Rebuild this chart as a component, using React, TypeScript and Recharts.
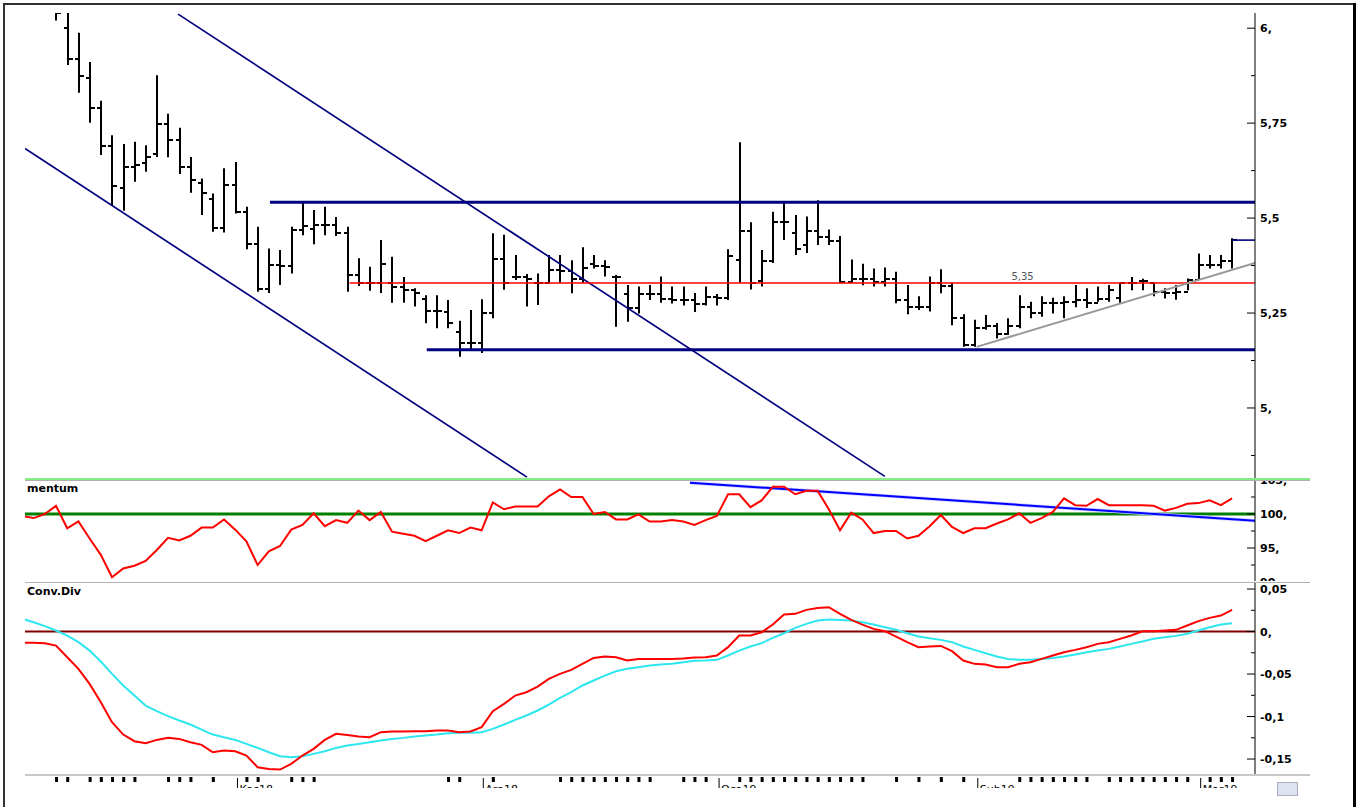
import React from "react";
import {
  ComposedChart,
  Bar,
  Line,
  XAxis,
  YAxis,
  ReferenceLine,
  ReferenceDot,
} from "recharts";

// price bars, index 1..106
const highs = [
  6.09, 6.07, 5.988, 5.911, 5.809, 5.718, 5.695, 5.701, 5.692, 5.876,
  5.775, 5.738, 5.661, 5.604, 5.565, 5.631, 5.648, 5.53, 5.477, 5.42,
  5.416, 5.477, 5.543, 5.521, 5.53, 5.503, 5.477, 5.394, 5.372, 5.442,
  5.398, 5.345, 5.315, 5.297, 5.297, 5.284, 5.23, 5.258, 5.286, 5.46,
  5.456, 5.403, 5.353, 5.354, 5.403, 5.403, 5.389, 5.423, 5.403, 5.389,
  5.35, 5.324, 5.32, 5.324, 5.346, 5.32, 5.32, 5.303, 5.32, 5.3,
  5.418, 5.7, 5.489, 5.416, 5.517, 5.543, 5.508, 5.504, 5.547, 5.47,
  5.453, 5.391, 5.38, 5.367, 5.37, 5.359, 5.324, 5.294, 5.346, 5.365,
  5.33, 5.247, 5.232, 5.245, 5.224, 5.236, 5.297, 5.28, 5.294, 5.29,
  5.294, 5.324, 5.315, 5.32, 5.324, 5.33, 5.345, 5.34, 5.33, 5.315,
  5.324, 5.341, 5.407, 5.403, 5.403, 5.447,
];
const lows = [
  6.02, 5.903, 5.83, 5.751, 5.666, 5.534, 5.519, 5.596, 5.622, 5.661,
  5.66, 5.616, 5.567, 5.508, 5.464, 5.462, 5.512, 5.418, 5.306, 5.303,
  5.324, 5.354, 5.455, 5.431, 5.455, 5.453, 5.306, 5.321, 5.309, 5.303,
  5.277, 5.277, 5.267, 5.223, 5.21, 5.21, 5.135, 5.153, 5.145, 5.236,
  5.311, 5.337, 5.267, 5.271, 5.328, 5.33, 5.302, 5.33, 5.367, 5.346,
  5.214, 5.227, 5.249, 5.284, 5.277, 5.275, 5.27, 5.253, 5.27, 5.27,
  5.284, 5.33, 5.312, 5.32, 5.382, 5.442, 5.403, 5.408, 5.429, 5.429,
  5.33, 5.33, 5.323, 5.32, 5.32, 5.276, 5.247, 5.258, 5.254, 5.302,
  5.218, 5.161, 5.161, 5.206, 5.183, 5.192, 5.21, 5.236, 5.24, 5.249,
  5.236, 5.265, 5.263, 5.28, 5.28, 5.277, 5.31, 5.31, 5.294, 5.288,
  5.285, 5.31, 5.338, 5.367, 5.367, 5.367,
];
const opens = [
  6.06, 6.0, 5.92, 5.87, 5.79, 5.69, 5.578, 5.635, 5.644, 5.67,
  5.749, 5.705, 5.635, 5.593, 5.55, 5.474, 5.587, 5.517, 5.431, 5.313,
  5.376, 5.375, 5.468, 5.471, 5.482, 5.482, 5.462, 5.35, 5.33, 5.33,
  5.33, 5.319, 5.311, 5.286, 5.256, 5.253, 5.2, 5.172, 5.17, 5.251,
  5.391, 5.344, 5.344, 5.33, 5.33, 5.363, 5.36, 5.34, 5.38, 5.375,
  5.344, 5.3, 5.262, 5.3, 5.3, 5.287, 5.285, 5.285, 5.273, 5.293,
  5.29, 5.39, 5.466, 5.335, 5.388, 5.49, 5.46, 5.43, 5.466, 5.45,
  5.44, 5.333, 5.34, 5.34, 5.333, 5.34, 5.284, 5.267, 5.267, 5.33,
  5.32, 5.236, 5.167, 5.21, 5.216, 5.195, 5.216, 5.267, 5.25, 5.276,
  5.276, 5.28, 5.284, 5.276, 5.288, 5.29, 5.33, 5.335, 5.33, 5.306,
  5.303, 5.306, 5.338, 5.376, 5.376, 5.388,
];
const closes = [
  6.04, 5.918, 5.874, 5.789, 5.69, 5.585, 5.635, 5.639, 5.66, 5.749,
  5.705, 5.635, 5.6, 5.565, 5.474, 5.587, 5.517, 5.431, 5.313, 5.376,
  5.375, 5.468, 5.48, 5.482, 5.482, 5.462, 5.35, 5.33, 5.33, 5.38,
  5.319, 5.311, 5.302, 5.256, 5.256, 5.224, 5.172, 5.172, 5.251, 5.391,
  5.33, 5.344, 5.34, 5.328, 5.363, 5.36, 5.34, 5.368, 5.375, 5.372,
  5.344, 5.262, 5.3, 5.3, 5.287, 5.285, 5.285, 5.273, 5.293, 5.29,
  5.4, 5.466, 5.33, 5.388, 5.49, 5.49, 5.418, 5.466, 5.451, 5.44,
  5.333, 5.34, 5.34, 5.333, 5.34, 5.284, 5.267, 5.267, 5.33, 5.32,
  5.236, 5.167, 5.21, 5.216, 5.195, 5.216, 5.267, 5.25, 5.276, 5.276,
  5.28, 5.284, 5.276, 5.288, 5.31, 5.33, 5.33, 5.335, 5.306, 5.303,
  5.306, 5.338, 5.376, 5.376, 5.388, 5.443,
];

// indicators, index -2..106
const momentum = [
  99.7, 99.4, 100.0, 101.2, 97.9, 98.9, 96.4, 94.0, 90.7, 92.0,
  92.4, 93.1, 94.7, 96.5, 96.1, 96.8, 98.0, 98.0, 99.2, 97.7,
  96.0, 92.5, 94.5, 95.3, 97.7, 98.4, 100.1, 98.2, 99.1, 98.7,
  100.5, 99.1, 100.3, 97.4, 97.1, 96.8, 96.0, 96.8, 97.6, 97.2,
  98.0, 97.6, 101.7, 100.7, 101.1, 101.1, 101.1, 102.6, 103.6, 102.5,
  102.5, 100.0, 100.3, 99.2, 99.2, 99.95, 98.9, 98.9, 99.1, 98.9,
  98.4, 99.1, 99.7, 102.9, 102.9, 101.0, 102.0, 104.0, 104.0, 102.9,
  103.4, 103.4, 100.7, 97.6, 100.2, 99.2, 97.2, 97.5, 97.5, 96.4,
  96.8, 98.2, 99.85, 98.1, 97.2, 97.9, 97.9, 98.6, 99.2, 100.1,
  98.7, 99.4, 100.3, 102.3, 101.3, 101.2, 102.2, 101.3, 101.3, 101.3,
  101.3, 101.2, 100.5, 100.9, 101.5, 101.6, 102.0, 101.3, 102.3,
];
const macdLine = [
  -0.0133, -0.0133, -0.0137, -0.0165, -0.0302, -0.0439, -0.0616, -0.0831, -0.1067, -0.1212,
  -0.129, -0.1314, -0.1275, -0.1251, -0.1263, -0.1302, -0.1333, -0.142, -0.14, -0.1408,
  -0.1459, -0.1596, -0.1616, -0.1624, -0.1557, -0.1459, -0.138, -0.1275, -0.1204, -0.1216,
  -0.1235, -0.1243, -0.1184, -0.1176, -0.1176, -0.1173, -0.1173, -0.1165, -0.1165, -0.1184,
  -0.1176, -0.1125, -0.0937, -0.0851, -0.0753, -0.0714, -0.0647, -0.0557, -0.0498, -0.0451,
  -0.038, -0.031, -0.0294, -0.0302, -0.0341, -0.0322, -0.0322, -0.0322, -0.0322, -0.0316,
  -0.0306, -0.0302, -0.0282, -0.0184, -0.0047, -0.0047, -0.0008, 0.0082, 0.02, 0.0208,
  0.0255, 0.0278, 0.0286, 0.0208, 0.0137, 0.0082, 0.0031, 0.0004, -0.0059, -0.0125,
  -0.0184, -0.0176, -0.0169, -0.0231, -0.0341, -0.038, -0.0388, -0.042, -0.042, -0.038,
  -0.0361, -0.0322, -0.0282, -0.0243, -0.0216, -0.0184, -0.0145, -0.0125, -0.0086, -0.0047,
  0.0004, 0.0004, 0.0012, 0.002, 0.0071, 0.0122, 0.0161, 0.0188, 0.0255,
];
const signalLine = [
  0.0149, 0.011, 0.0063, 0.0012, -0.0047, -0.0125, -0.0224, -0.0353, -0.0498, -0.0635,
  -0.0753, -0.0871, -0.0937, -0.0996, -0.1047, -0.1094, -0.1153, -0.1212, -0.1243, -0.1275,
  -0.1322, -0.1369, -0.142, -0.1467, -0.1478, -0.1467, -0.1439, -0.1408, -0.1369, -0.1341,
  -0.1322, -0.1302, -0.1282, -0.1263, -0.1251, -0.1235, -0.1224, -0.1212, -0.1196, -0.1192,
  -0.1192, -0.1184, -0.1145, -0.1094, -0.1039, -0.0988, -0.0929, -0.0859, -0.078, -0.0714,
  -0.0635, -0.0576, -0.0518, -0.0467, -0.0439, -0.042, -0.04, -0.0388, -0.038, -0.0361,
  -0.0345, -0.0341, -0.0333, -0.0282, -0.0224, -0.0176, -0.0137, -0.0075, -0.002, 0.0043,
  0.009, 0.0129, 0.0141, 0.0137, 0.0129, 0.011, 0.0082, 0.0051, 0.002, -0.002,
  -0.0059, -0.0078, -0.0098, -0.0125, -0.0176, -0.0216, -0.0255, -0.0294, -0.0322, -0.0333,
  -0.0333, -0.0322, -0.031, -0.0294, -0.0271, -0.0243, -0.0224, -0.0204, -0.0176, -0.0145,
  -0.0118, -0.0086, -0.0067, -0.0051, -0.0027, 0.0012, 0.0051, 0.0082, 0.0098,
];

// drawn trend lines (bar index, value)
const lowerChannel = [{ x: -1.77, y: 5.683 }, { x: 43.05, y: 4.818 }];
const upperChannel = [{ x: 11.9, y: 6.037 }, { x: 75.0, y: 4.82 }];
const resistance = [{ x: 20.1, y: 5.542 }, { x: 108.05, y: 5.542 }];
const support = [{ x: 34.1, y: 5.153 }, { x: 108.05, y: 5.153 }];
const redLevel = [{ x: 27.2, y: 5.329 }, { x: 108.05, y: 5.329 }];
const lastPrice = [{ x: 106, y: 5.442 }, { x: 108.05, y: 5.442 }];
const riseLine = [{ x: 83.2, y: 5.161 }, { x: 108.05, y: 5.382 }];
const momTrend = [{ x: 57.6, y: 104.6 }, { x: 108.05, y: 99.0 }];

// axis ticks
const priceTicks = [4.875, 5, 5.125, 5.25, 5.375, 5.5, 5.625, 5.75, 5.875, 6];
const priceMajor = [5, 5.25, 5.5, 5.75, 6];
const priceLabels = ["5,", "5,25", "5,5", "5,75", "6,"];
const momTicks = [90, 92.5, 95, 97.5, 100, 102.5, 105];
const momMajor = [90, 95, 100, 105];
const momLabels = ["90,", "95,", "100,", "105,"];
const macdTicks = [-0.15, -0.125, -0.1, -0.075, -0.05, -0.025, 0, 0.025, 0.05];
const macdMajor = [-0.15, -0.1, -0.05, 0, 0.05];
const macdLabels = ["-0,15", "-0,1", "-0,05", "0,", "0,05"];

const dayTicks = [
  1, 2, 4, 5, 6, 7, 8, 11, 12, 13, 15, 18, 19, 22, 23, 24, 36, 37, 40, 46,
  47, 48, 49, 50, 51, 52, 53, 54, 57, 58, 59, 62, 63, 64, 65, 66, 67, 68,
  69, 70, 71, 72, 73, 76, 78, 80, 82, 87, 88, 89, 90, 91, 92, 93, 95, 96,
  97, 98, 99, 100, 101, 102, 104, 105, 106,
];
const months = ["Kas18", "Ara18", "Oca19", "Şub19", "Mar19"];
const monthPos = [17.2, 39.15, 60.2, 83.3, 103.2];

const priceData = highs.map((h, k) => ({
  i: k + 1,
  high: h,
  low: lows[k],
  open: opens[k],
  close: closes[k],
  range: [lows[k], h],
}));

const indicatorData = momentum.map((m, k) => ({
  i: k - 2,
  mom: m,
  macd: macdLine[k],
  signal: signalLine[k],
}));

const xDomain = [-1.77, 108.05];
const FONT = "DejaVu Sans, Verdana, sans-serif";

const OhlcBar = (props: any) => {
  const { x, y, width, height, payload } = props;
  if (!payload) return null;
  const top = Math.min(y, y + height);
  const h = Math.abs(height);
  const cx = Math.round(x + width / 2);
  const span = payload.high - payload.low;
  const py = (v: number) => Math.round(top + ((payload.high - v) / span) * h);
  return (
    <g>
      <line x1={cx} x2={cx} y1={top} y2={top + h} stroke="#000" strokeWidth={2} />
      <line x1={cx - 4} x2={cx} y1={py(payload.open)} y2={py(payload.open)} stroke="#000" strokeWidth={2} />
      <line x1={cx} x2={cx + 5} y1={py(payload.close)} y2={py(payload.close)} stroke="#000" strokeWidth={2} />
    </g>
  );
};

const makeYTick = (majors: number[], labels: string[]) => (props: any) => {
  const { x, y, payload } = props;
  const k = majors.findIndex((m) => Math.abs(m - payload.value) < 1e-9);
  return (
    <g>
      <line x1={x - (k >= 0 ? 8 : 4)} x2={x} y1={y} y2={y} stroke="#000" />
      {k >= 0 && (
        <text x={x + 5} y={y + 4} fontSize={11} fontWeight="bold" fontFamily={FONT} fill="#000">
          {labels[k]}
        </text>
      )}
    </g>
  );
};

const DateTick = (props: any) => {
  const { x, y, payload } = props;
  const m = monthPos.findIndex((p) => Math.abs(p - payload.value) < 1e-9);
  if (m >= 0) {
    return (
      <g>
        <line x1={x} x2={x} y1={y + 4} y2={y + 16} stroke="#000" />
        <text x={x + 2} y={y + 19} fontSize={11} fontFamily={FONT} fill="#000">
          {months[m]}
        </text>
      </g>
    );
  }
  return <rect x={x - 1} y={y + 3} width={3} height={5} fill="#000" />;
};

const hLine = (top: number, color: string, h = 1) => (
  <div style={{ position: "absolute", left: 25, top, width: 1285, height: h, background: color }} />
);

export default function App() {
  return (
    <div
      style={{
        position: "absolute",
        left: 0,
        top: 0,
        width: 1371,
        height: 807,
        background: "#fff",
        overflow: "hidden",
      }}
    >
      {/* price panel */}
      <div style={{ position: "absolute", left: 0, top: 0, width: 1371, height: 485, overflow: "hidden" }}>
        <ComposedChart width={1371} height={485} data={priceData} margin={{ top: 13, right: 56, bottom: 6, left: 25 }}>
          <XAxis type="number" dataKey="i" domain={xDomain} allowDataOverflow hide />
          <YAxis
            orientation="right"
            width={60}
            domain={[4.813, 6.04]}
            allowDataOverflow
            ticks={priceTicks}
            interval={0}
            tickLine={false}
            tickSize={0}
            tickMargin={0}
            axisLine={{ stroke: "#000" }}
            tick={makeYTick(priceMajor, priceLabels)}
          />
          <ReferenceLine segment={lowerChannel} stroke="#000080" strokeWidth={1.7} ifOverflow="hidden" />
          <ReferenceLine segment={upperChannel} stroke="#000080" strokeWidth={1.7} ifOverflow="hidden" />
          <ReferenceLine segment={resistance} stroke="#000080" strokeWidth={3} ifOverflow="hidden" />
          <ReferenceLine segment={support} stroke="#000080" strokeWidth={3} ifOverflow="hidden" />
          <ReferenceLine segment={redLevel} stroke="#ff0000" strokeWidth={1.6} ifOverflow="hidden" />
          <ReferenceLine segment={lastPrice} stroke="#000080" strokeWidth={1.6} ifOverflow="hidden" />
          <ReferenceLine segment={riseLine} stroke="#999999" strokeWidth={2} ifOverflow="hidden" />
          <ReferenceDot
            x={87.3}
            y={5.329}
            r={0}
            fill="none"
            stroke="none"
            label={{ value: "5,35", position: "top", offset: 3, fill: "#555", fontSize: 10, fontFamily: FONT }}
          />
          <Bar dataKey="range" barSize={8} shape={<OhlcBar />} isAnimationActive={false} />
        </ComposedChart>
      </div>

      {/* momentum panel */}
      <div style={{ position: "absolute", left: 0, top: 481, width: 1371, height: 100, overflow: "hidden" }}>
        <ComposedChart width={1371} height={100} data={indicatorData} margin={{ top: 0, right: 56, bottom: 0, left: 25 }}>
          <XAxis type="number" dataKey="i" domain={xDomain} allowDataOverflow hide />
          <YAxis
            orientation="right"
            width={60}
            domain={[90.15, 104.85]}
            allowDataOverflow
            ticks={momTicks}
            interval={0}
            tickLine={false}
            tickSize={0}
            tickMargin={0}
            axisLine={{ stroke: "#000" }}
            tick={makeYTick(momMajor, momLabels)}
          />
          <ReferenceLine y={100} stroke="#008000" strokeWidth={3} />
          <ReferenceLine segment={momTrend} stroke="#cdd0ff" strokeWidth={3.5} ifOverflow="hidden" />
          <ReferenceLine segment={momTrend} stroke="#0000ff" strokeWidth={2} ifOverflow="hidden" />
          <Line type="linear" dataKey="mom" stroke="#ff0000" strokeWidth={2} dot={false} isAnimationActive={false} />
        </ComposedChart>
      </div>

      {/* MACD panel */}
      <div style={{ position: "absolute", left: 0, top: 583, width: 1371, height: 205, overflow: "hidden" }}>
        <ComposedChart width={1371} height={207} data={indicatorData} margin={{ top: 0, right: 56, bottom: 0, left: 25 }}>
          <XAxis
            type="number"
            dataKey="i"
            domain={xDomain}
            allowDataOverflow
            height={16}
            ticks={[...dayTicks, ...monthPos]}
            interval={0}
            axisLine={false}
            tickLine={false}
            tickSize={0}
            tickMargin={0}
            tick={<DateTick />}
          />
          <YAxis
            orientation="right"
            width={60}
            domain={[-0.1676, 0.0571]}
            allowDataOverflow
            ticks={macdTicks}
            interval={0}
            tickLine={false}
            tickSize={0}
            tickMargin={0}
            axisLine={{ stroke: "#000" }}
            tick={makeYTick(macdMajor, macdLabels)}
          />
          <ReferenceLine y={0} stroke="#800000" strokeWidth={2} />
          <Line type="linear" dataKey="signal" stroke="#2ee6ee" strokeWidth={2} dot={false} isAnimationActive={false} />
          <Line type="linear" dataKey="macd" stroke="#ff0000" strokeWidth={2} dot={false} isAnimationActive={false} />
        </ComposedChart>
      </div>

      {/* panel separators and frame */}
      {hLine(478, "#86ec86", 2)}
      {hLine(480, "#b0b0b0")}
      {hLine(582, "#b0b0b0")}
      {hLine(774, "#c8c8c8", 2)}
      <div style={{ position: "absolute", left: 3, top: 3, width: 2, height: 804, background: "#333" }} />
      <div style={{ position: "absolute", left: 3, top: 3, width: 1353, height: 2, background: "#333" }} />
      <div style={{ position: "absolute", left: 1353, top: 3, width: 3, height: 804, background: "#000" }} />

      <div style={{ position: "absolute", left: 27, top: 482, font: `bold 11px ${FONT}`, color: "#000" }}>mentum</div>
      <div style={{ position: "absolute", left: 27, top: 585, font: `bold 11px ${FONT}`, color: "#000" }}>Conv.Div</div>
      <div
        style={{
          position: "absolute",
          left: 1277,
          top: 782,
          width: 19,
          height: 12,
          background: "#dfe3ef",
          border: "1px solid #a8acc0",
        }}
      />
    </div>
  );
}
